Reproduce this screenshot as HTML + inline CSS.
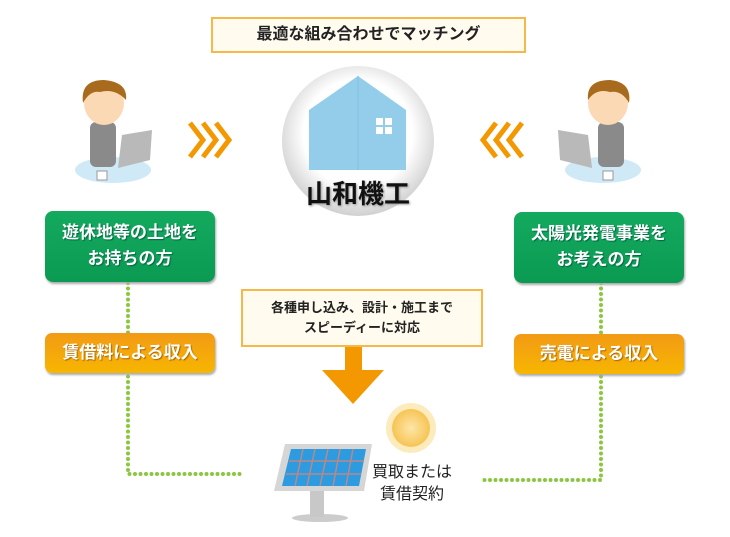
<!DOCTYPE html>
<html><head><meta charset="utf-8"><style>
body{margin:0;width:730px;height:537px;background:#fff;position:relative;overflow:hidden;font-family:"Liberation Sans","Noto Sans CJK JP",sans-serif;}
.a{position:absolute;}
.box{position:absolute;background:#fffbee;border:2px solid #f7b84a;box-sizing:border-box;text-align:center;font-weight:bold;color:#222;}
.g{position:absolute;background:linear-gradient(#13aa5e,#0b9a52);border-radius:8px;color:#fff;font-weight:bold;font-size:17px;text-align:center;line-height:26px;box-shadow:1px 2px 2px #aaa;text-shadow:1px 1px 1px #064;}
.o{position:absolute;background:linear-gradient(#f29a16,#f7b600);border-radius:7px;color:#fff;font-weight:bold;font-size:17px;text-align:center;line-height:40px;box-shadow:1px 2px 2px #aaa;text-shadow:1px 1px 1px #a60;}
</style></head><body>
<div class="box" style="left:211px;top:17px;width:315px;height:36px;line-height:32px;font-size:16px;">最適な組み合わせでマッチング</div>

<svg class="a" style="left:0;top:0" width="730" height="537">
<defs><radialGradient id="c" cx="50%" cy="45%" r="55%"><stop offset="0.65" stop-color="#fff"/><stop offset="1" stop-color="#d0d0d0"/></radialGradient>
<radialGradient id="s" cx="50%" cy="50%" r="50%"><stop offset="0" stop-color="#fde6a8"/><stop offset="1" stop-color="#f7c454"/></radialGradient></defs>
<ellipse cx="358" cy="141" rx="76" ry="75" fill="url(#c)"/>
<polygon points="309,110 358,76 406,110 406,170 309,170" fill="#94cdea"/>
<line x1="358" y1="76" x2="358" y2="170" stroke="#7fbfe0"/>
<rect x="376" y="118" width="7" height="7" fill="#fff"/><rect x="385" y="118" width="7" height="7" fill="#fff"/>
<rect x="376" y="127" width="7" height="7" fill="#fff"/><rect x="385" y="127" width="7" height="7" fill="#fff"/>
<text x="358" y="203" text-anchor="middle" font-size="26" font-weight="bold" fill="#111" font-family="Liberation Sans,Noto Sans CJK JP,sans-serif" style="filter:drop-shadow(1px 1px 1px #999)">山和機工</text>
<g fill="none" stroke="#f39800" stroke-width="5">
<polyline points="190,123 203,140 190,157"/><polyline points="203,123 216,140 203,157"/><polyline points="216,123 229,140 216,157"/>
<polyline points="522,123 509,140 522,157"/><polyline points="509,123 496,140 509,157"/><polyline points="496,123 483,140 496,157"/>
</g>
<g>
<ellipse cx="113" cy="170" rx="38" ry="13" fill="#cfe9f7"/>
<rect x="90" y="122" width="26" height="45" rx="6" fill="#8a8a8a"/>
<ellipse cx="104" cy="103" rx="20" ry="22" fill="#fbd9b5"/>
<path d="M83,103 Q80,80 104,80 Q128,82 126,100 Q115,88 100,92 Q90,90 83,103Z" fill="#a86a1c"/>
<polygon points="118,168 150,160 152,130 122,135" fill="#b9b9b9"/>
<rect x="97" y="171" width="10" height="9" fill="#fff" stroke="#999"/>
</g>
<g>
<ellipse cx="603" cy="170" rx="38" ry="13" fill="#cfe9f7"/>
<rect x="598" y="122" width="26" height="45" rx="6" fill="#8a8a8a"/>
<ellipse cx="608" cy="103" rx="20" ry="22" fill="#fbd9b5"/>
<path d="M588,100 Q586,80 610,80 Q632,82 629,103 Q622,90 610,92 Q596,88 588,100Z" fill="#a86a1c"/>
<polygon points="592,168 560,160 558,130 588,135" fill="#b9b9b9"/>
<rect x="603" y="171" width="10" height="9" fill="#fff" stroke="#999"/>
</g>
<g stroke="#8cc63f" stroke-width="4" stroke-linecap="round" stroke-dasharray="0 5.5" fill="none">
<polyline points="128,283 128,474 243,474"/>
<polyline points="601,283 601,480 480,480"/>
</g>
<rect x="345" y="347" width="17" height="24" fill="#f39800"/>
<polygon points="322,370 384,370 353,404" fill="#f39800"/>
<g transform="translate(411,428)">
<circle r="25" fill="#fbe3a0" opacity="0.7"/>
<circle r="19" fill="url(#s)"/>
</g>
<ellipse cx="320" cy="518" rx="28" ry="4" fill="#ccc"/>
<rect x="310" y="485" width="14" height="32" fill="#c8c8c8"/>
<polygon points="285,444 372,444 364,491 274,491" fill="#d6d6d6"/>
<polygon points="291,449 366,449 359,486 282,486" fill="#2c9be0"/>
<g stroke="#b88" stroke-width="1.5">
<line x1="289" y1="461" x2="364" y2="461"/><line x1="286" y1="474" x2="361" y2="474"/>
<line x1="303" y1="449" x2="295" y2="486"/><line x1="315" y1="449" x2="307" y2="486"/><line x1="328" y1="449" x2="320" y2="486"/><line x1="340" y1="449" x2="333" y2="486"/><line x1="353" y1="449" x2="346" y2="486"/>
</g>
</svg>

<div class="g" style="left:45px;top:211px;width:170px;height:71px;padding-top:9px;box-sizing:border-box;">遊休地等の土地を<br>お持ちの方</div>
<div class="g" style="left:514px;top:212px;width:170px;height:71px;padding-top:9px;box-sizing:border-box;">太陽光発電事業を<br>お考えの方</div>
<div class="o" style="left:45px;top:333px;width:170px;height:40px;">賃借料による収入</div>
<div class="o" style="left:514px;top:334px;width:170px;height:40px;">売電による収入</div>
<div class="box" style="left:241px;top:289px;width:242px;height:58px;font-size:13px;line-height:20px;padding-top:7px;">各種申し込み、設計・施工まで<br>スピーディーに対応</div>
<div class="a" style="left:372px;top:462px;font-size:16px;line-height:22px;color:#222;text-align:center;">買取または<br>賃借契約</div>
</body></html>
